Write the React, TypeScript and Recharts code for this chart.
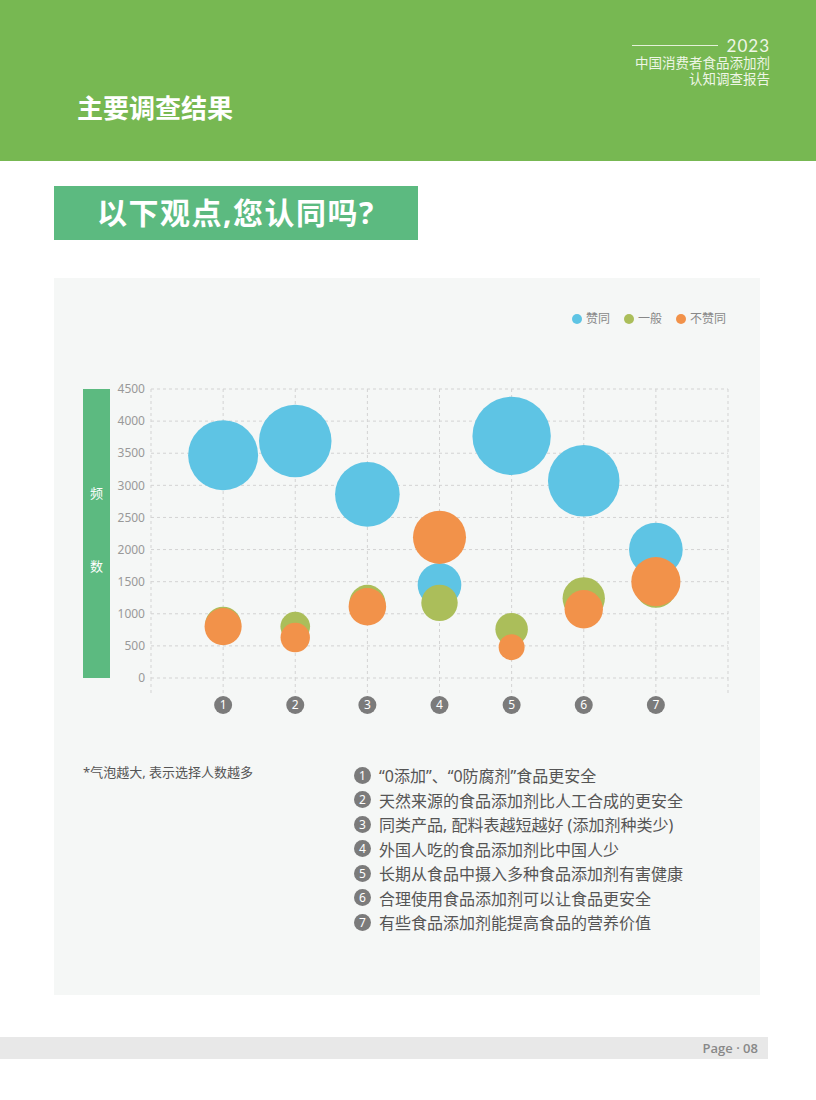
import React from 'react';
import { ScatterChart, Scatter, XAxis, YAxis, ZAxis, CartesianGrid } from 'recharts';

const statements = [
  '“0添加”、“0防腐剂”食品更安全',
  '天然来源的食品添加剂比人工合成的更安全',
  '同类产品, 配料表越短越好 (添加剂种类少)',
  '外国人吃的食品添加剂比中国人少',
  '长期从食品中摄入多种食品添加剂有害健康',
  '合理使用食品添加剂可以让食品更安全',
  '有些食品添加剂能提高食品的营养价值',
];
const items = [1, 2, 3, 4, 5, 6, 7];

// y = 频数, z = 气泡大小
const agreeY = [3470, 3690, 2860, 1450, 3770, 3070, 2000];
const agreeZ = [3060, 3290, 2610, 1190, 3840, 3200, 1800];
const neutralY = [830, 800, 1170, 1170, 760, 1240, 1420];
const neutralZ = [810, 550, 810, 830, 660, 1120, 1100];
const disagreeY = [800, 630, 1110, 2190, 480, 1070, 1500];
const disagreeZ = [860, 540, 880, 1760, 420, 920, 1510];

const yTicks = [0, 500, 1000, 1500, 2000, 2500, 3000, 3500, 4000, 4500];
const xTicks = [0, 1, 2, 3, 4, 5, 6, 7, 8];

const series = [
  { name: '赞同', color: '#5ec4e4', y: agreeY, z: agreeZ },
  { name: '一般', color: '#abbe5a', y: neutralY, z: neutralZ },
  { name: '不赞同', color: '#f2924a', y: disagreeY, z: disagreeZ },
];

const FONT = '"Noto Sans", "Noto Sans CJK SC", sans-serif';

function XTick({ x, y, payload }: any) {
  const v = payload.value;
  return (
    <g>
      <line x1={x} x2={x} y1={y} y2={y + 15} stroke="#d3d3d3" strokeDasharray="3 3" />
      {v >= 1 && v <= 7 && (
        <>
          <circle cx={x} cy={y + 27} r={9} fill="#7b7b7b" />
          <text x={x} y={y + 27} dy="0.36em" textAnchor="middle" fill="#fff" fontSize={12} fontFamily={FONT}>
            {v}
          </text>
        </>
      )}
    </g>
  );
}

function Num({ n }: { n: number }) {
  return (
    <span
      style={{
        display: 'inline-block', width: 17, height: 17, borderRadius: 9, background: '#7b7b7b',
        color: '#fff', fontSize: 12, lineHeight: '17px', textAlign: 'center', marginRight: 8, flex: 'none',
      }}
    >
      {n}
    </span>
  );
}

export default function App() {
  return (
    <div style={{ position: 'absolute', left: 0, top: 0, width: 816, height: 1100, background: '#fff', fontFamily: FONT, overflow: 'hidden' }}>
      {/* header */}
      <div style={{ position: 'absolute', left: 0, top: 0, width: 816, height: 161, background: '#77b852' }} />
      <div style={{ position: 'absolute', left: 77, top: 90, color: '#fff', fontSize: 26, fontWeight: 700, lineHeight: '36px' }}>
        主要调查结果
      </div>
      <div style={{ position: 'absolute', left: 632, top: 45, width: 86, height: 1, background: '#e4f1d8' }} />
      <div style={{ position: 'absolute', right: 46, top: 37, color: '#eef6e6', fontSize: 17, lineHeight: '18px', fontFamily: 'Lato, "Noto Sans", sans-serif', letterSpacing: 1 }}>
        2023
      </div>
      <div style={{ position: 'absolute', right: 46, top: 55, color: '#eef6e6', fontSize: 13.5, lineHeight: '16px', textAlign: 'right' }}>
        中国消费者食品添加剂<br />认知调查报告
      </div>

      {/* question box */}
      <div style={{ position: 'absolute', left: 54, top: 186, width: 364, height: 54, background: '#5cba80', color: '#fff', fontSize: 30, fontWeight: 700, lineHeight: '54px', textAlign: 'center', letterSpacing: 1.5 }}>
        以下观点,您认同吗?
      </div>

      {/* panel */}
      <div style={{ position: 'absolute', left: 54, top: 278, width: 706, height: 717, background: '#f5f7f6' }} />

      {/* legend */}
      <div style={{ position: 'absolute', left: 572, top: 310, display: 'flex', alignItems: 'center', fontSize: 12, color: '#888', lineHeight: '18px' }}>
        {series.map((s) => (
          <div key={s.name} style={{ display: 'flex', alignItems: 'center', marginRight: 14 }}>
            <span style={{ display: 'inline-block', width: 10, height: 10, borderRadius: 5, background: s.color, marginRight: 4 }} />
            {s.name}
          </div>
        ))}
      </div>

      {/* y label */}
      <div style={{ position: 'absolute', left: 83, top: 389, width: 27, height: 289, background: '#5cba80', color: '#fff', fontSize: 13 }}>
        <div style={{ position: 'absolute', top: 94, width: 27, textAlign: 'center' }}>频</div>
        <div style={{ position: 'absolute', top: 167, width: 27, textAlign: 'center' }}>数</div>
      </div>

      <div style={{ position: 'absolute', left: 54, top: 278 }}>
        <ScatterChart width={706} height={717} margin={{ top: 111, right: 32, bottom: 277, left: 0 }}>
          <CartesianGrid strokeDasharray="3 3" stroke="#d3d3d3" />
          <XAxis
            type="number"
            dataKey="x"
            domain={[0, 8]}
            ticks={xTicks}
            interval={0}
            axisLine={false}
            tickLine={false}
            tickSize={0}
            tickMargin={0}
            height={40}
            tick={<XTick />}
          />
          <YAxis
            type="number"
            dataKey="y"
            domain={[0, 4500]}
            ticks={yTicks}
            interval={0}
            axisLine={false}
            tickLine={false}
            tickSize={0}
            tickMargin={6}
            width={97}
            tick={{ fill: '#999', fontSize: 12, fontFamily: FONT }}
          />
          <ZAxis type="number" dataKey="z" domain={[0, 4000]} range={[0, (4000 * Math.PI) / 2.5]} />
          {series.map((s) => (
            <Scatter
              key={s.name}
              name={s.name}
              data={items.map((x, i) => ({ x, y: s.y[i], z: s.z[i] }))}
              fill={s.color}
              isAnimationActive={false}
            />
          ))}
        </ScatterChart>
      </div>

      {/* footnote */}
      <div style={{ position: 'absolute', left: 83, top: 763, fontSize: 13, color: '#555', lineHeight: '18px' }}>
        *气泡越大, 表示选择人数越多
      </div>

      {/* statements */}
      <div style={{ position: 'absolute', left: 354, top: 763, fontSize: 16, color: '#555' }}>
        {statements.map((t, i) => (
          <div key={i} style={{ display: 'flex', alignItems: 'center', height: 24.5, whiteSpace: 'nowrap' }}>
            <Num n={items[i]} />
            <span>{t}</span>
          </div>
        ))}
      </div>

      {/* footer */}
      <div style={{ position: 'absolute', left: 0, top: 1037, width: 768, height: 22, background: '#e8e8e8' }} />
      <div style={{ position: 'absolute', right: 58, top: 1037, height: 22, lineHeight: '22px', fontSize: 13, color: '#888', fontWeight: 600, fontFamily: '"Open Sans", sans-serif' }}>
        Page · 08
      </div>
    </div>
  );
}
